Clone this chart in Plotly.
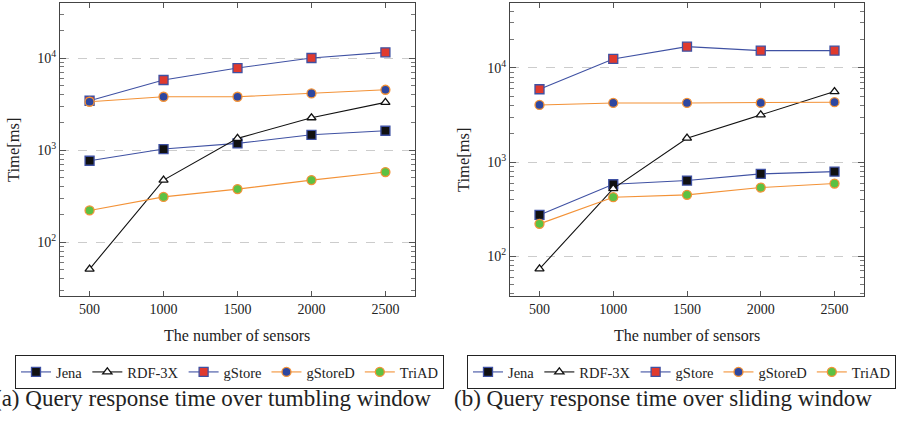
import plotly.graph_objects as go
import numpy as np

sensors = [500, 1000, 1500, 2000, 2500]

# (a) tumbling window
jena_a = [766, 1026, 1183, 1466, 1622]
rdf_a = [51, 472, 1340, 2245, 3296]
gstore_a = [3435, 5770, 7785, 10000, 11530]
gstored_a = [3350, 3795, 3795, 4130, 4520]
triad_a = [221, 310, 377, 472, 577]

# (b) sliding window
jena_b = [275, 582, 637, 750, 793]
rdf_b = [73.5, 524, 1795, 3170, 5610]
gstore_b = [5940, 12460, 16830, 15270, 15270]
gstored_b = [4045, 4250, 4250, 4250, 4325]
triad_b = [221, 424, 449, 537, 592]

names = ["Jena", "RDF-3X", "gStore", "gStoreD", "TriAD"]
x_ticks = [500, 1000, 1500, 2000, 2500]
y_ticks = [100, 1000, 10000]
y_ticktext = ["10<sup>2</sup>", "10<sup>3</sup>", "10<sup>4</sup>"]

BLUE = "#3f51a3"
ORANGE = "#f39237"
styles = {
    "Jena": dict(line=BLUE, symbol="square", fill="#111111", edge=BLUE, size=9),
    "RDF-3X": dict(line="#111111", symbol="triangle-up", fill="white", edge="#111111", size=8),
    "gStore": dict(line=BLUE, symbol="square", fill="#e03a2e", edge=BLUE, size=9),
    "gStoreD": dict(line=ORANGE, symbol="circle", fill="#2e47a0", edge=ORANGE, size=9),
    "TriAD": dict(line=ORANGE, symbol="circle", fill="#5cc143", edge=ORANGE, size=9),
}

FONT = "Liberation Serif"
fig = go.Figure()

sets = [
    ("x", "y", "legend", [jena_a, rdf_a, gstore_a, gstored_a, triad_a]),
    ("x2", "y2", "legend2", [jena_b, rdf_b, gstore_b, gstored_b, triad_b]),
]
for xa, ya, lg, series in sets:
    for name, vals in zip(names, series):
        s = styles[name]
        fig.add_trace(go.Scatter(
            x=sensors, y=vals, name=name, mode="lines+markers",
            xaxis=xa, yaxis=ya, legend=lg,
            line=dict(color=s["line"], width=1.1),
            marker=dict(symbol=s["symbol"], size=s["size"], color=s["fill"],
                        line=dict(color=s["edge"], width=1.3)),
        ))

def minor_vals(lo, hi):
    out = []
    for d in [10, 100, 1000, 10000]:
        for m in range(2, 10):
            v = m * d
            if lo < v < hi:
                out.append(v)
    return out

axis_common = dict(showline=True, mirror="ticks", linecolor="#444444", linewidth=1,
                   ticks="inside", tickcolor="#555555",
                   tickfont=dict(family=FONT, size=14, color="#222222"))

legend_common = dict(orientation="h", xanchor="left", yanchor="top",
                     bordercolor="#222222", borderwidth=1, bgcolor="white",
                     font=dict(family=FONT, size=14.5, color="#222222"),
                     tracegroupgap=0, itemwidth=30)

fig.update_layout(
    width=899, height=423, margin=dict(l=0, r=0, t=0, b=0),
    plot_bgcolor="white", paper_bgcolor="white",
    font=dict(family=FONT, color="#222222"),
    xaxis=dict(domain=[60/899, 415/899], anchor="y", range=[300, 2700],
               tickvals=x_ticks, ticklen=5, showgrid=False, zeroline=False, **axis_common),
    yaxis=dict(domain=[1-296/423, 1-3/423], anchor="x", type="log",
               range=[np.log10(26), np.log10(39600)],
               tickvals=y_ticks, ticktext=y_ticktext, ticklen=6,
               showgrid=True, gridcolor="#cccccc", griddash="dash", gridwidth=1,
               minor=dict(ticks="inside", ticklen=4, tickcolor="#777777",
                          tickvals=minor_vals(26, 39600), showgrid=False),
               **axis_common),
    xaxis2=dict(domain=[510/899, 864/899], anchor="y2", range=[300, 2700],
                tickvals=x_ticks, ticklen=5, showgrid=False, zeroline=False, **axis_common),
    yaxis2=dict(domain=[1-296/423, 1-3/423], anchor="x2", type="log",
                range=[np.log10(37.9), np.log10(48900)],
                tickvals=y_ticks, ticktext=y_ticktext, ticklen=6,
                showgrid=True, gridcolor="#cccccc", griddash="dash", gridwidth=1,
                minor=dict(ticks="inside", ticklen=4, tickcolor="#777777",
                           tickvals=minor_vals(37.9, 48900), showgrid=False),
                **axis_common),
    legend=dict(x=15/899, y=1-355/423, **legend_common),
    legend2=dict(x=467/899, y=1-355/423, **legend_common),
    showlegend=True,
)

def note(x, y, text, size, **kw):
    fig.add_annotation(x=x, y=y, text=text, xref="paper", yref="paper", showarrow=False,
                       font=dict(family=FONT, size=size, color="#222222"), **kw)

note(237/899, 1-335/423, "The number of sensors", 16, xanchor="center", yanchor="middle")
note(687/899, 1-335/423, "The number of sensors", 16, xanchor="center", yanchor="middle")
note(13/899, 1-150/423, "Time[ms]", 16.5, textangle=-90, xanchor="center", yanchor="middle")
note(463/899, 1-160/423, "Time[ms]", 16.5, textangle=-90, xanchor="center", yanchor="middle")
note(-8/899, 1-398/423, "(a) Query response time over tumbling window", 23,
     xanchor="left", yanchor="middle")
note(452/899, 1-398/423, "(b) Query response time over sliding window", 23,
     xanchor="left", yanchor="middle")

fig.write_html("out.html")
